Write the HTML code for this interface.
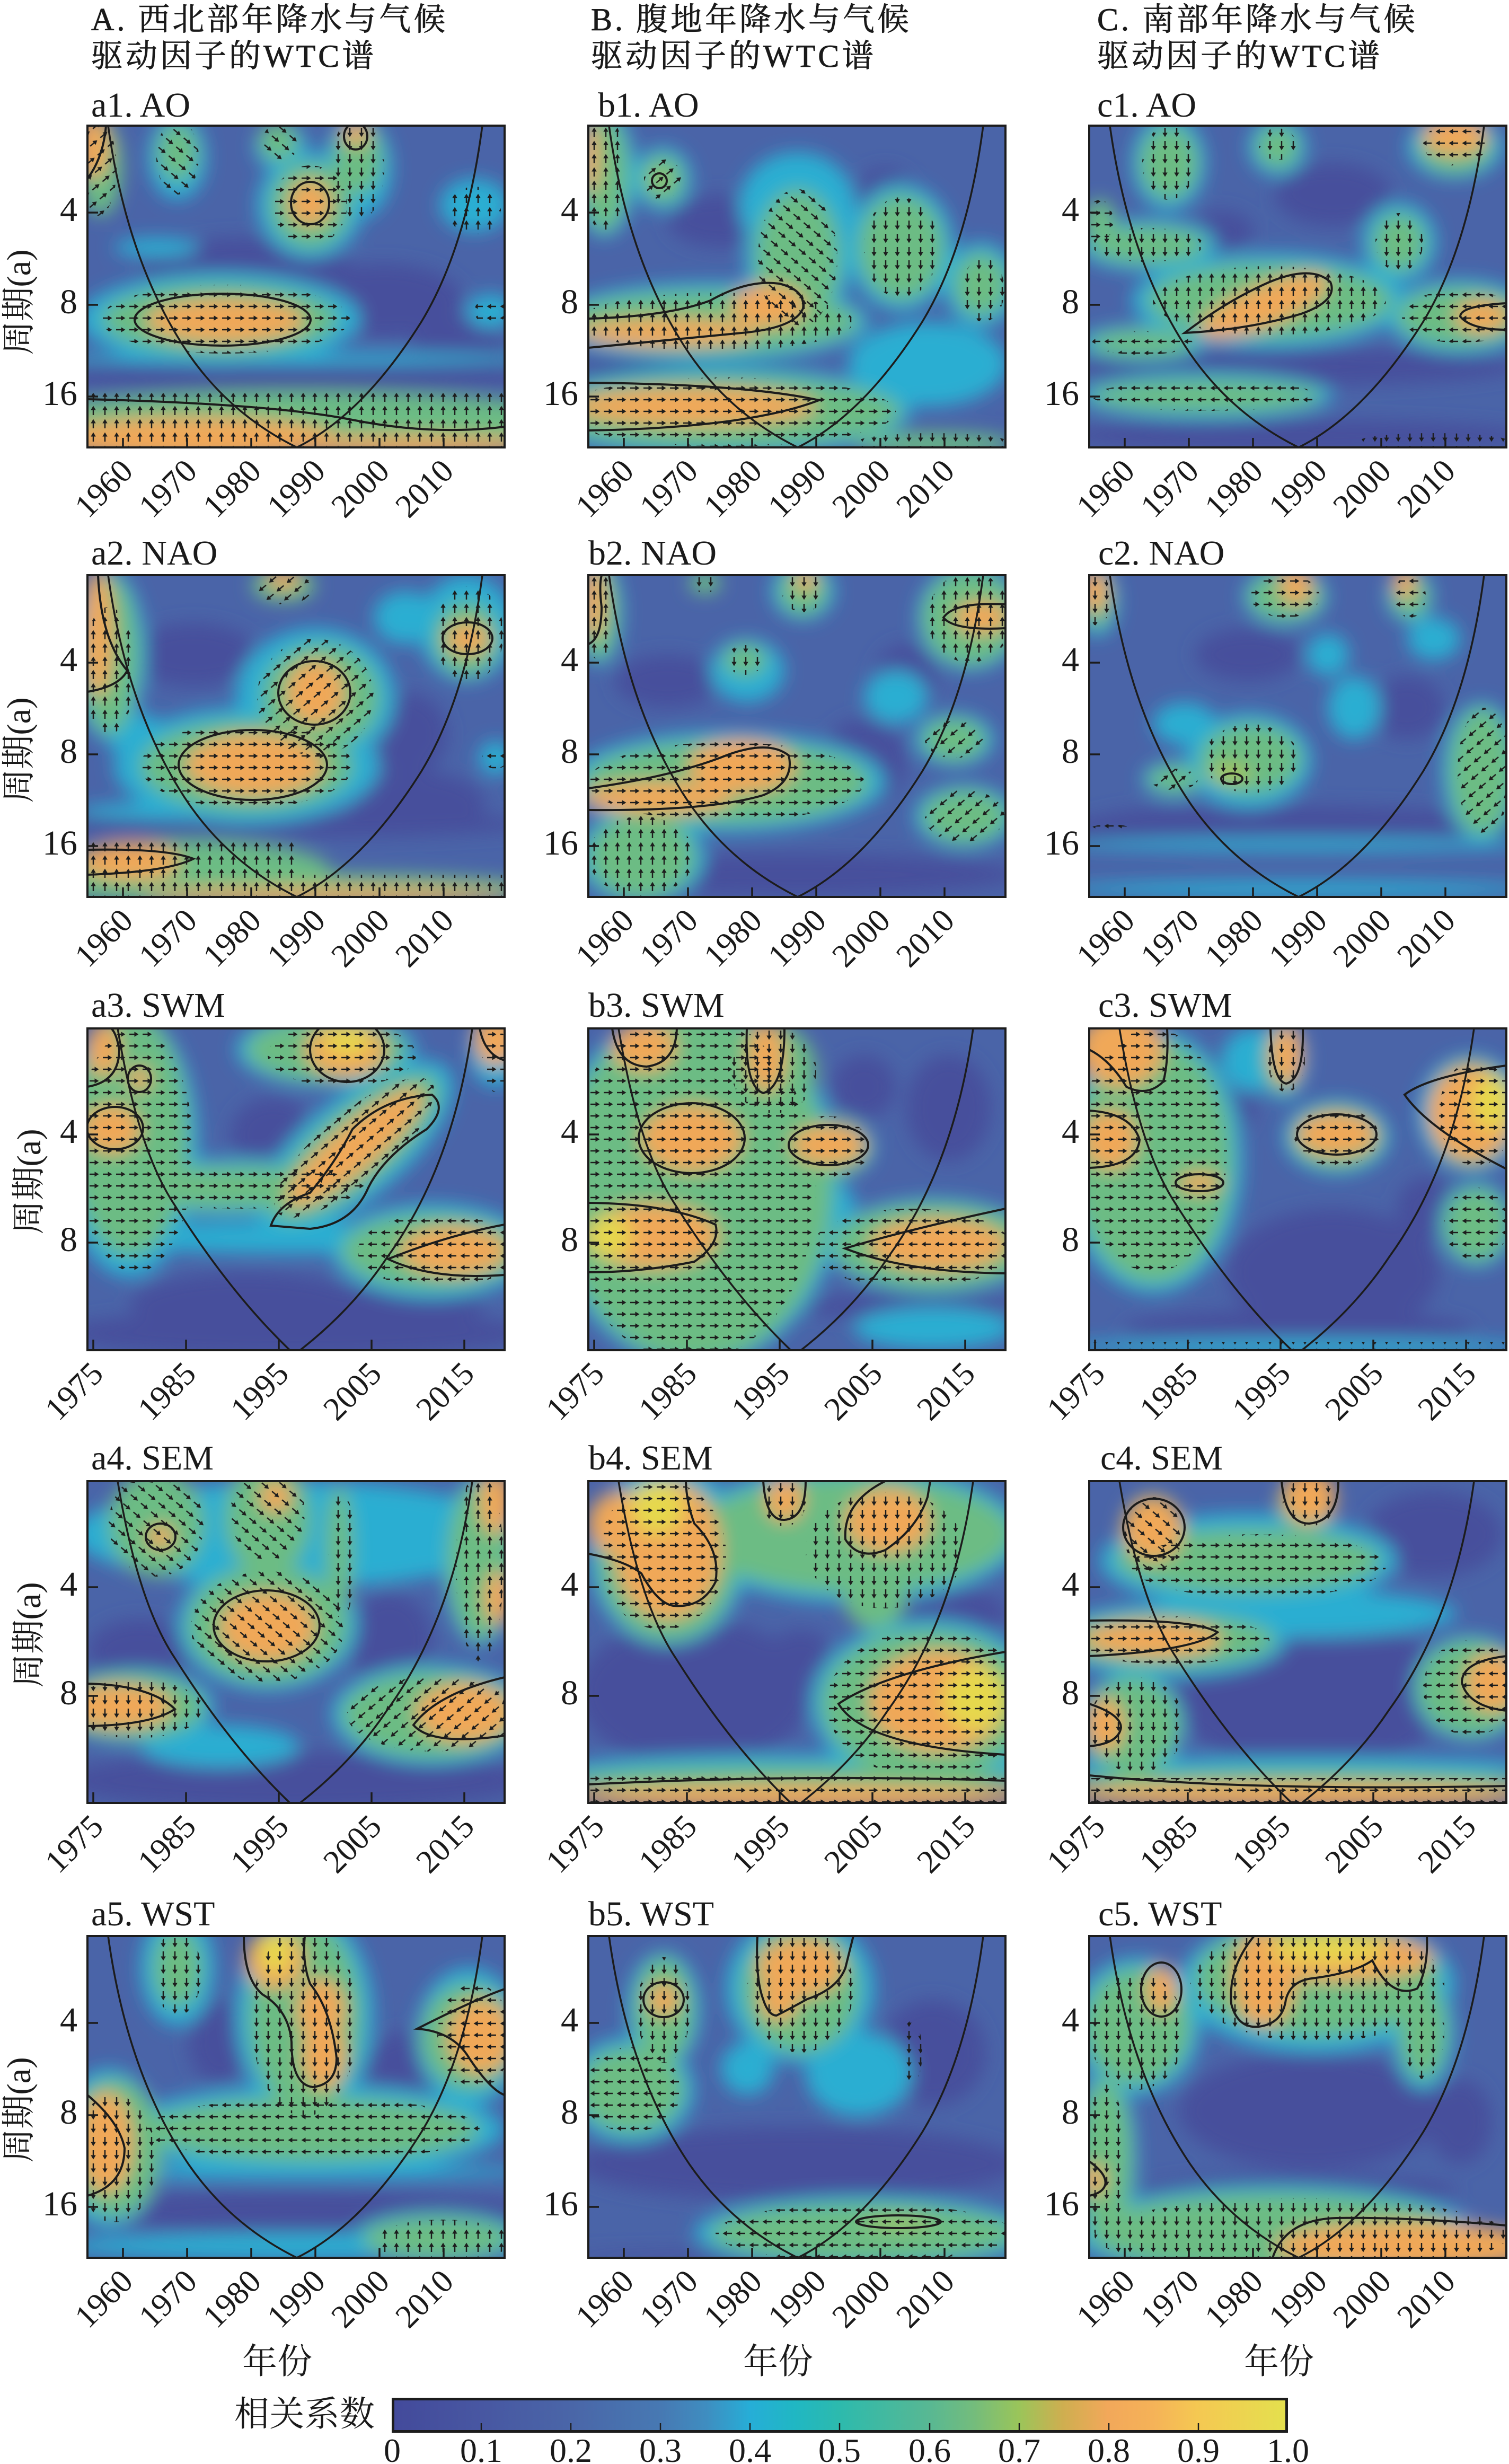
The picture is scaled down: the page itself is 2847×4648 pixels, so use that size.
<!DOCTYPE html>
<html><head><meta charset="utf-8"><style>html,body{margin:0;padding:0;background:#fff}svg{display:block}text{font-family:"Liberation Serif","Noto Serif CJK SC",serif;fill:#1a1a1a}</style></head><body>
<svg xmlns="http://www.w3.org/2000/svg" width="2847" height="4648" viewBox="0 0 2847 4648">
<defs>
<filter id="bl" x="-30%" y="-30%" width="160%" height="160%"><feGaussianBlur stdDeviation="17"/></filter>
<clipPath id="pc"><rect width="787" height="607"/></clipPath>
<pattern id="pR" width="25" height="22" patternUnits="userSpaceOnUse"><path d="M4 11H15" stroke="#1d1d1d" stroke-width="2.5"/><path d="M13.5 6.3L21.5 11L13.5 15.7Z" fill="#1d1d1d"/></pattern>
<pattern id="pL" width="25" height="22" patternUnits="userSpaceOnUse" patternTransform="rotate(180)"><path d="M4 11H15" stroke="#1d1d1d" stroke-width="2.5"/><path d="M13.5 6.3L21.5 11L13.5 15.7Z" fill="#1d1d1d"/></pattern>
<pattern id="pU" width="25" height="22" patternUnits="userSpaceOnUse" patternTransform="rotate(-90)"><path d="M4 11H15" stroke="#1d1d1d" stroke-width="2.5"/><path d="M13.5 6.3L21.5 11L13.5 15.7Z" fill="#1d1d1d"/></pattern>
<pattern id="pD" width="25" height="22" patternUnits="userSpaceOnUse" patternTransform="rotate(90)"><path d="M4 11H15" stroke="#1d1d1d" stroke-width="2.5"/><path d="M13.5 6.3L21.5 11L13.5 15.7Z" fill="#1d1d1d"/></pattern>
<pattern id="pDR" width="25" height="22" patternUnits="userSpaceOnUse" patternTransform="rotate(40)"><path d="M4 11H15" stroke="#1d1d1d" stroke-width="2.5"/><path d="M13.5 6.3L21.5 11L13.5 15.7Z" fill="#1d1d1d"/></pattern>
<pattern id="pUR" width="25" height="22" patternUnits="userSpaceOnUse" patternTransform="rotate(-40)"><path d="M4 11H15" stroke="#1d1d1d" stroke-width="2.5"/><path d="M13.5 6.3L21.5 11L13.5 15.7Z" fill="#1d1d1d"/></pattern>
<pattern id="pDL" width="25" height="22" patternUnits="userSpaceOnUse" patternTransform="rotate(140)"><path d="M4 11H15" stroke="#1d1d1d" stroke-width="2.5"/><path d="M13.5 6.3L21.5 11L13.5 15.7Z" fill="#1d1d1d"/></pattern>
<linearGradient id="cb" x1="0" x2="1" y1="0" y2="0">
<stop offset="0" stop-color="#434a9b"/><stop offset="0.1" stop-color="#4857a2"/><stop offset="0.2" stop-color="#4a66a8"/><stop offset="0.3" stop-color="#4779b3"/><stop offset="0.35" stop-color="#3f8dc0"/><stop offset="0.4" stop-color="#26aed7"/><stop offset="0.45" stop-color="#20b7c3"/><stop offset="0.5" stop-color="#2dbaad"/><stop offset="0.6" stop-color="#58b893"/><stop offset="0.65" stop-color="#74bc7c"/><stop offset="0.7" stop-color="#9ac55a"/><stop offset="0.75" stop-color="#cfae50"/><stop offset="0.8" stop-color="#f2a85a"/><stop offset="0.85" stop-color="#f5b258"/><stop offset="0.9" stop-color="#f5c852"/><stop offset="1" stop-color="#e4e04e"/>
</linearGradient>
<path id="coi1" d="M39,0 Q75,260 191,431 Q270,545 395,607 M395,607 Q520,545 630,370 Q715,230 745,0"/>
<path id="coi3" d="M57,0 Q95,230 165,334 Q270,500 382,607 M401,607 Q500,530 566,431 Q690,260 726,0"/>
</defs>
<rect width="2847" height="4648" fill="#fff"/>

<!-- headers -->
<g font-size="60" letter-spacing="5" stroke="#1a1a1a" stroke-width="0.8">
<text x="172" y="57">A. 西北部年降水与气候</text><text x="172" y="126">驱动因子的WTC谱</text>
<text x="1115" y="57">B. 腹地年降水与气候</text><text x="1115" y="126">驱动因子的WTC谱</text>
<text x="2070" y="57">C. 南部年降水与气候</text><text x="2070" y="126">驱动因子的WTC谱</text>
</g>

<!-- panel titles -->
<g font-size="66">
<text x="172" y="220">a1. AO</text><text x="1128" y="220">b1. AO</text><text x="2070" y="220">c1. AO</text>
<text x="172" y="1065">a2. NAO</text><text x="1110" y="1065">b2. NAO</text><text x="2072" y="1065">c2. NAO</text>
<text x="172" y="1918">a3. SWM</text><text x="1110" y="1918">b3. SWM</text><text x="2072" y="1918">c3. SWM</text>
<text x="172" y="2772">a4. SEM</text><text x="1110" y="2772">b4. SEM</text><text x="2076" y="2772">c4. SEM</text>
<text x="172" y="3632">a5. WST</text><text x="1110" y="3632">b5. WST</text><text x="2072" y="3632">c5. WST</text>
</g>

<!-- ============ a1 ============ -->
<g transform="translate(165,237)">
<g clip-path="url(#pc)">
<rect width="787" height="607" fill="#4a64a8"/>
<g filter="url(#bl)">
<g fill="#46509c"><ellipse cx="394" cy="470" rx="500" ry="28"/><ellipse cx="300" cy="270" rx="200" ry="60"/><ellipse cx="560" cy="330" rx="150" ry="70"/><ellipse cx="700" cy="420" rx="90" ry="60"/></g>
<g fill="#2aaed2"><ellipse cx="170" cy="60" rx="55" ry="80"/><ellipse cx="365" cy="40" rx="50" ry="45"/><ellipse cx="510" cy="80" rx="65" ry="95"/><ellipse cx="730" cy="150" rx="65" ry="50"/><ellipse cx="420" cy="150" rx="100" ry="100"/><ellipse cx="130" cy="230" rx="80" ry="18"/><ellipse cx="250" cy="365" rx="265" ry="88"/><ellipse cx="760" cy="350" rx="45" ry="32"/><ellipse cx="394" cy="440" rx="460" ry="12"/></g>
<g fill="#6cbc84"><ellipse cx="25" cy="80" rx="40" ry="90"/><ellipse cx="170" cy="50" rx="38" ry="55"/><ellipse cx="360" cy="30" rx="36" ry="36"/><ellipse cx="510" cy="60" rx="45" ry="70"/><ellipse cx="420" cy="150" rx="75" ry="80"/><ellipse cx="250" cy="365" rx="222" ry="66"/><ellipse cx="394" cy="555" rx="520" ry="55"/></g>
<g fill="#f0a858"><ellipse cx="10" cy="40" rx="30" ry="60"/><ellipse cx="506" cy="15" rx="25" ry="22"/><ellipse cx="420" cy="146" rx="40" ry="42"/><ellipse cx="260" cy="368" rx="150" ry="40"/><ellipse cx="200" cy="590" rx="270" ry="40"/><ellipse cx="600" cy="603" rx="260" ry="18"/></g>
</g>
<ellipse cx="20" cy="80" rx="35" ry="90" fill="url(#pUR)"/>
<g fill="url(#pDR)"><ellipse cx="170" cy="60" rx="40" ry="70"/><ellipse cx="365" cy="30" rx="35" ry="35"/></g>
<ellipse cx="510" cy="80" rx="50" ry="100" fill="url(#pD)"/>
<ellipse cx="730" cy="160" rx="50" ry="45" fill="url(#pU)"/>
<g fill="url(#pR)"><ellipse cx="420" cy="150" rx="70" ry="75"/><ellipse cx="260" cy="365" rx="235" ry="65"/></g>
<ellipse cx="760" cy="350" rx="30" ry="25" fill="url(#pL)"/>
<rect x="0" y="505" width="787" height="102" fill="url(#pU)"/>
<g fill="none" stroke="#1c1c1c" stroke-width="4"><ellipse cx="420" cy="146" rx="36" ry="40"/><ellipse cx="255" cy="366" rx="166" ry="49"/><path d="M0,516 Q350,525 500,555 T787,568"/><path d="M0,100 Q30,60 35,0"/><ellipse cx="506" cy="20" rx="22" ry="25"/></g>
<use href="#coi1" fill="none" stroke="#1c1c1c" stroke-width="3.5"/>
</g>
<rect width="787" height="607" fill="none" stroke="#1c1c1c" stroke-width="4"/>
</g>

<!-- ============ a2 ============ -->
<g transform="translate(165,1085)">
<g clip-path="url(#pc)">
<rect width="787" height="607" fill="#4a64a8"/>
<g filter="url(#bl)">
<g fill="#46509c"><ellipse cx="200" cy="150" rx="120" ry="60"/><ellipse cx="620" cy="430" rx="130" ry="60"/><ellipse cx="600" cy="300" rx="80" ry="80"/><ellipse cx="394" cy="470" rx="450" ry="25"/></g>
<g fill="#2aaed2"><ellipse cx="715" cy="100" rx="90" ry="100"/><ellipse cx="430" cy="230" rx="150" ry="130"/><ellipse cx="300" cy="360" rx="250" ry="110"/><ellipse cx="770" cy="345" rx="32" ry="32"/><ellipse cx="200" cy="445" rx="220" ry="18"/><ellipse cx="90" cy="300" rx="60" ry="40"/><ellipse cx="600" cy="80" rx="60" ry="50"/><ellipse cx="40" cy="150" rx="70" ry="160"/></g>
<g fill="#6cbc84"><ellipse cx="40" cy="150" rx="55" ry="150"/><ellipse cx="370" cy="20" rx="60" ry="30"/><ellipse cx="715" cy="120" rx="60" ry="70"/><ellipse cx="440" cy="230" rx="110" ry="100"/><ellipse cx="300" cy="360" rx="200" ry="85"/><ellipse cx="200" cy="560" rx="260" ry="60"/><ellipse cx="394" cy="592" rx="460" ry="30"/></g>
<g fill="#f0a858"><ellipse cx="20" cy="110" rx="28" ry="120"/><ellipse cx="370" cy="8" rx="30" ry="18"/><ellipse cx="717" cy="120" rx="40" ry="30"/><ellipse cx="430" cy="222" rx="55" ry="60"/><ellipse cx="315" cy="358" rx="130" ry="58"/><ellipse cx="80" cy="540" rx="95" ry="35"/><ellipse cx="450" cy="603" rx="350" ry="14"/></g>
</g>
<ellipse cx="40" cy="180" rx="50" ry="120" fill="url(#pU)"/>
<ellipse cx="370" cy="25" rx="55" ry="30" fill="url(#pDL)"/>
<ellipse cx="720" cy="110" rx="65" ry="90" fill="url(#pU)"/>
<ellipse cx="430" cy="230" rx="110" ry="110" fill="url(#pUR)"/>
<ellipse cx="300" cy="360" rx="200" ry="80" fill="url(#pR)"/>
<ellipse cx="770" cy="345" rx="25" ry="20" fill="url(#pL)"/>
<rect x="0" y="500" width="400" height="107" fill="url(#pU)"/><rect x="400" y="565" width="387" height="42" fill="url(#pU)"/>
<g fill="none" stroke="#1c1c1c" stroke-width="4"><path d="M20,0 Q25,120 75,180 Q60,210 0,220"/><ellipse cx="717" cy="119" rx="47" ry="30"/><ellipse cx="428" cy="222" rx="68" ry="60"/><ellipse cx="312" cy="358" rx="140" ry="66"/><path d="M0,518 Q150,515 200,535 Q150,560 0,565"/></g>
<use href="#coi1" fill="none" stroke="#1c1c1c" stroke-width="3.5"/>
</g>
<rect width="787" height="607" fill="none" stroke="#1c1c1c" stroke-width="4"/>
</g>

<!-- ============ a3 ============ -->
<g transform="translate(165,1940)">
<g clip-path="url(#pc)">
<rect width="787" height="607" fill="#4a64a8"/>
<g filter="url(#bl)">
<g fill="#46509c"><ellipse cx="350" cy="200" rx="80" ry="70"/><ellipse cx="300" cy="520" rx="220" ry="60"/><ellipse cx="394" cy="575" rx="450" ry="45"/><ellipse cx="600" cy="520" rx="150" ry="40"/></g>
<g fill="#2aaed2"><ellipse cx="80" cy="220" rx="130" ry="250"/><ellipse cx="260" cy="300" rx="280" ry="55"/><ellipse cx="450" cy="40" rx="170" ry="70"/><ellipse cx="504" cy="225" rx="230" ry="95" transform="rotate(-40 504 225)"/><ellipse cx="650" cy="420" rx="190" ry="90"/><ellipse cx="394" cy="395" rx="394" ry="30"/><ellipse cx="770" cy="40" rx="50" ry="70"/></g>
<g fill="#6cbc84"><ellipse cx="80" cy="200" rx="110" ry="230"/><ellipse cx="260" cy="300" rx="250" ry="40"/><ellipse cx="450" cy="40" rx="150" ry="60"/><ellipse cx="504" cy="225" rx="200" ry="70" transform="rotate(-40 504 225)"/><ellipse cx="650" cy="420" rx="170" ry="70"/></g>
<g fill="#f0a858"><ellipse cx="30" cy="40" rx="30" ry="50"/><ellipse cx="45" cy="190" rx="55" ry="45"/><ellipse cx="98" cy="95" rx="20" ry="22"/><ellipse cx="487" cy="40" rx="75" ry="50"/><ellipse cx="504" cy="225" rx="165" ry="42" transform="rotate(-40 504 225)"/><ellipse cx="770" cy="20" rx="40" ry="50"/><ellipse cx="690" cy="420" rx="100" ry="45"/></g>
<ellipse cx="490" cy="25" rx="45" ry="25" fill="#e6d84e"/>
</g>
<g fill="url(#pR)"><ellipse cx="90" cy="230" rx="110" ry="230"/><ellipse cx="280" cy="300" rx="250" ry="40"/><ellipse cx="480" cy="50" rx="140" ry="60"/><ellipse cx="504" cy="225" rx="190" ry="65" transform="rotate(-40 504 225)"/><ellipse cx="770" cy="60" rx="25" ry="60"/></g>
<ellipse cx="660" cy="420" rx="150" ry="70" fill="url(#pL)"/>
<g fill="none" stroke="#1c1c1c" stroke-width="4"><path d="M0,110 Q60,100 60,40 Q55,10 45,0"/><ellipse cx="98" cy="95" rx="22" ry="25"/><ellipse cx="52" cy="188" rx="53" ry="40"/><ellipse cx="490" cy="40" rx="70" ry="61"/><path d="M346,372 Q360,330 420,310 Q470,250 500,190 Q560,130 650,125 Q680,150 640,190 Q560,240 530,300 Q500,370 420,378 Z"/><path d="M740,0 Q750,50 787,60"/><path d="M787,370 Q680,390 567,435 Q650,475 787,465"/></g>
<use href="#coi3" fill="none" stroke="#1c1c1c" stroke-width="3.5"/>
</g>
<rect width="787" height="607" fill="none" stroke="#1c1c1c" stroke-width="4"/>
</g>

<!-- ============ a4 ============ -->
<g transform="translate(165,2794)">
<g clip-path="url(#pc)">
<rect width="787" height="607" fill="#4a64a8"/>
<g filter="url(#bl)">
<g fill="#46509c"><ellipse cx="570" cy="300" rx="80" ry="90"/><ellipse cx="394" cy="565" rx="450" ry="55"/><ellipse cx="100" cy="320" rx="100" ry="60"/></g>
<g fill="#2aaed2"><ellipse cx="394" cy="100" rx="420" ry="100"/><ellipse cx="340" cy="270" rx="170" ry="125"/><ellipse cx="90" cy="425" rx="150" ry="70"/><ellipse cx="650" cy="440" rx="190" ry="95"/><ellipse cx="250" cy="500" rx="150" ry="40"/><ellipse cx="740" cy="150" rx="70" ry="160"/></g>
<g fill="#6cbc84"><ellipse cx="130" cy="80" rx="90" ry="100"/><ellipse cx="340" cy="70" rx="80" ry="110"/><ellipse cx="475" cy="130" rx="25" ry="120"/><ellipse cx="740" cy="150" rx="60" ry="150"/><ellipse cx="340" cy="270" rx="150" ry="110"/><ellipse cx="80" cy="425" rx="140" ry="60"/><ellipse cx="650" cy="440" rx="170" ry="80"/></g>
<g fill="#f0a858"><ellipse cx="355" cy="30" rx="30" ry="30"/><ellipse cx="138" cy="105" rx="25" ry="22"/><ellipse cx="770" cy="40" rx="30" ry="60"/><ellipse cx="775" cy="220" rx="25" ry="50"/><ellipse cx="340" cy="275" rx="90" ry="65"/><ellipse cx="60" cy="425" rx="100" ry="40"/><ellipse cx="710" cy="437" rx="90" ry="55"/></g>
</g>
<g fill="url(#pDR)"><ellipse cx="130" cy="80" rx="90" ry="100"/><ellipse cx="340" cy="60" rx="70" ry="90"/><ellipse cx="340" cy="275" rx="145" ry="105"/></g>
<g fill="url(#pD)"><ellipse cx="480" cy="140" rx="25" ry="120"/><ellipse cx="90" cy="430" rx="130" ry="55"/></g>
<ellipse cx="740" cy="160" rx="45" ry="180" fill="url(#pU)"/>
<ellipse cx="650" cy="440" rx="160" ry="70" fill="url(#pDL)"/>
<g fill="none" stroke="#1c1c1c" stroke-width="4"><ellipse cx="138" cy="105" rx="28" ry="25"/><ellipse cx="338" cy="273" rx="100" ry="67"/><path d="M0,382 Q120,385 165,430 Q120,460 0,462"/><path d="M787,370 Q660,400 615,460 Q650,500 787,480"/></g>
<use href="#coi3" fill="none" stroke="#1c1c1c" stroke-width="3.5"/>
</g>
<rect width="787" height="607" fill="none" stroke="#1c1c1c" stroke-width="4"/>
</g>

<!-- ============ a5 ============ -->
<g transform="translate(165,3652)">
<g clip-path="url(#pc)">
<rect width="787" height="607" fill="#4a64a8"/>
<g filter="url(#bl)">
<g fill="#46509c"><ellipse cx="250" cy="200" rx="60" ry="80"/><ellipse cx="600" cy="260" rx="80" ry="80"/><ellipse cx="394" cy="520" rx="450" ry="40"/></g>
<g fill="#2aaed2"><ellipse cx="410" cy="150" rx="130" ry="200"/><ellipse cx="170" cy="60" rx="70" ry="110"/><ellipse cx="720" cy="190" rx="100" ry="130"/><ellipse cx="425" cy="365" rx="360" ry="85"/><ellipse cx="40" cy="400" rx="100" ry="150"/><ellipse cx="394" cy="445" rx="450" ry="14"/><ellipse cx="394" cy="585" rx="450" ry="25"/><ellipse cx="660" cy="570" rx="160" ry="50"/></g>
<g fill="#6cbc84"><ellipse cx="410" cy="150" rx="105" ry="180"/><ellipse cx="170" cy="60" rx="45" ry="75"/><ellipse cx="720" cy="190" rx="90" ry="100"/><ellipse cx="425" cy="365" rx="315" ry="60"/><ellipse cx="50" cy="400" rx="90" ry="130"/><ellipse cx="660" cy="570" rx="140" ry="40"/></g>
<g fill="#f0a858"><ellipse cx="354" cy="45" rx="55" ry="55"/><ellipse cx="440" cy="140" rx="45" ry="60"/><ellipse cx="445" cy="225" rx="40" ry="65"/><ellipse cx="740" cy="190" rx="60" ry="70"/><ellipse cx="35" cy="390" rx="50" ry="95"/></g>
<ellipse cx="354" cy="30" rx="30" ry="40" fill="#e6d84e"/>
</g>
<g fill="url(#pD)"><ellipse cx="410" cy="160" rx="100" ry="180"/><ellipse cx="170" cy="70" rx="45" ry="80"/><ellipse cx="50" cy="420" rx="80" ry="120"/></g>
<g fill="url(#pL)"><ellipse cx="730" cy="190" rx="70" ry="100"/><ellipse cx="425" cy="365" rx="315" ry="60"/></g>
<ellipse cx="670" cy="575" rx="130" ry="40" fill="url(#pU)"/>
<g fill="none" stroke="#1c1c1c" stroke-width="4"><path d="M295,0 Q295,80 330,110 Q380,140 385,200 Q385,280 425,285 Q470,280 470,230 Q460,140 420,90 Q405,50 410,0"/><path d="M787,100 Q730,120 622,175 Q690,180 720,230 Q760,290 787,300"/><path d="M0,300 Q60,350 70,400 Q70,470 0,490"/></g>
<use href="#coi1" fill="none" stroke="#1c1c1c" stroke-width="3.5"/>
</g>
<rect width="787" height="607" fill="none" stroke="#1c1c1c" stroke-width="4"/>
</g>

<!-- ============ b1 ============ -->
<g transform="translate(1110,237)">
<g clip-path="url(#pc)">
<rect width="787" height="607" fill="#4a64a8"/>
<g filter="url(#bl)">
<g fill="#46509c"><ellipse cx="200" cy="460" rx="220" ry="25"/><ellipse cx="560" cy="140" rx="60" ry="60"/><ellipse cx="250" cy="180" rx="100" ry="50"/><ellipse cx="394" cy="590" rx="450" ry="20"/></g>
<g fill="#2aaed2"><ellipse cx="30" cy="90" rx="60" ry="120"/><ellipse cx="140" cy="100" rx="55" ry="60"/><ellipse cx="394" cy="150" rx="110" ry="100"/><ellipse cx="395" cy="250" rx="100" ry="150"/><ellipse cx="590" cy="230" rx="100" ry="120"/><ellipse cx="740" cy="300" rx="70" ry="80"/><ellipse cx="230" cy="370" rx="300" ry="75"/><ellipse cx="250" cy="540" rx="360" ry="85"/><ellipse cx="640" cy="450" rx="150" ry="80"/></g>
<g fill="#6cbc84"><ellipse cx="30" cy="90" rx="45" ry="110"/><ellipse cx="140" cy="100" rx="40" ry="45"/><ellipse cx="395" cy="250" rx="80" ry="130"/><ellipse cx="590" cy="230" rx="80" ry="100"/><ellipse cx="740" cy="300" rx="50" ry="60"/><ellipse cx="230" cy="370" rx="280" ry="58"/><ellipse cx="250" cy="540" rx="340" ry="68"/><ellipse cx="650" cy="600" rx="150" ry="20"/></g>
<g fill="#f0a858"><ellipse cx="5" cy="60" rx="15" ry="70"/><ellipse cx="150" cy="390" rx="170" ry="26"/><ellipse cx="340" cy="340" rx="70" ry="40"/><ellipse cx="200" cy="530" rx="230" ry="35"/></g>
<ellipse cx="134" cy="100" rx="15" ry="15" fill="#a8c456"/>
</g>
<ellipse cx="30" cy="90" rx="40" ry="110" fill="url(#pU)"/>
<ellipse cx="140" cy="100" rx="35" ry="40" fill="url(#pUR)"/>
<ellipse cx="395" cy="250" rx="75" ry="130" fill="url(#pDR)"/>
<g fill="url(#pD)"><ellipse cx="590" cy="230" rx="70" ry="95"/><ellipse cx="745" cy="310" rx="40" ry="60"/><ellipse cx="650" cy="600" rx="150" ry="20"/></g>
<ellipse cx="240" cy="370" rx="260" ry="55" fill="url(#pU)"/>
<ellipse cx="260" cy="540" rx="320" ry="65" fill="url(#pR)"/>
<g fill="none" stroke="#1c1c1c" stroke-width="4"><ellipse cx="134" cy="104" rx="14" ry="14"/><path d="M0,364 Q150,360 230,330 Q300,290 360,298 Q410,310 405,345 Q390,380 300,390 Q200,400 0,419"/><path d="M0,485 Q300,488 435,518 Q300,570 0,575"/></g>
<use href="#coi1" fill="none" stroke="#1c1c1c" stroke-width="3.5"/>
</g>
<rect width="787" height="607" fill="none" stroke="#1c1c1c" stroke-width="4"/>
</g>

<!-- ============ c1 ============ -->
<g transform="translate(2055,237)">
<g clip-path="url(#pc)">
<rect width="787" height="607" fill="#4a64a8"/>
<g filter="url(#bl)">
<g fill="#46509c"><ellipse cx="394" cy="455" rx="420" ry="35"/><ellipse cx="394" cy="585" rx="450" ry="30"/><ellipse cx="460" cy="130" rx="110" ry="60"/><ellipse cx="250" cy="200" rx="60" ry="40"/></g>
<g fill="#2aaed2"><ellipse cx="150" cy="70" rx="70" ry="90"/><ellipse cx="355" cy="40" rx="55" ry="55"/><ellipse cx="690" cy="40" rx="90" ry="60"/><ellipse cx="110" cy="225" rx="130" ry="50"/><ellipse cx="585" cy="220" rx="70" ry="75"/><ellipse cx="340" cy="330" rx="260" ry="90"/><ellipse cx="100" cy="410" rx="120" ry="35"/><ellipse cx="700" cy="360" rx="140" ry="70"/><ellipse cx="220" cy="510" rx="240" ry="45"/></g>
<g fill="#6cbc84"><ellipse cx="150" cy="70" rx="55" ry="70"/><ellipse cx="355" cy="40" rx="40" ry="40"/><ellipse cx="690" cy="40" rx="70" ry="50"/><ellipse cx="20" cy="180" rx="30" ry="40"/><ellipse cx="110" cy="225" rx="110" ry="35"/><ellipse cx="585" cy="220" rx="50" ry="55"/><ellipse cx="340" cy="330" rx="230" ry="70"/><ellipse cx="100" cy="410" rx="100" ry="25"/><ellipse cx="700" cy="360" rx="120" ry="55"/><ellipse cx="220" cy="510" rx="220" ry="30"/></g>
<g fill="#f0a858"><ellipse cx="690" cy="20" rx="60" ry="35"/><ellipse cx="330" cy="340" rx="130" ry="38" transform="rotate(-22 330 340)"/><ellipse cx="740" cy="360" rx="50" ry="30"/></g>
</g>
<g fill="url(#pD)"><ellipse cx="150" cy="70" rx="50" ry="70"/><ellipse cx="355" cy="35" rx="35" ry="30"/><ellipse cx="110" cy="225" rx="105" ry="32"/><ellipse cx="585" cy="220" rx="45" ry="55"/><ellipse cx="650" cy="595" rx="140" ry="15"/></g>
<g fill="url(#pL)"><ellipse cx="690" cy="35" rx="60" ry="40"/><ellipse cx="100" cy="410" rx="95" ry="22"/><ellipse cx="700" cy="360" rx="110" ry="50"/><ellipse cx="220" cy="510" rx="215" ry="28"/></g>
<ellipse cx="20" cy="180" rx="25" ry="40" fill="url(#pR)"/>
<ellipse cx="340" cy="330" rx="220" ry="65" fill="url(#pU)"/>
<g fill="none" stroke="#1c1c1c" stroke-width="4"><path d="M180,391 Q260,330 340,295 Q420,262 455,295 Q470,330 400,355 Q300,385 180,391 Z"/><path d="M787,335 Q700,340 700,360 Q720,385 787,385"/></g>
<use href="#coi1" fill="none" stroke="#1c1c1c" stroke-width="3.5"/>
</g>
<rect width="787" height="607" fill="none" stroke="#1c1c1c" stroke-width="4"/>
</g>

<!-- ============ b2 ============ -->
<g transform="translate(1110,1085)">
<g clip-path="url(#pc)">
<rect width="787" height="607" fill="#4a64a8"/>
<g filter="url(#bl)">
<g fill="#46509c"><ellipse cx="150" cy="200" rx="100" ry="50"/><ellipse cx="520" cy="350" rx="80" ry="80"/><ellipse cx="394" cy="565" rx="420" ry="40"/><ellipse cx="600" cy="190" rx="60" ry="60"/></g>
<g fill="#2aaed2"><ellipse cx="20" cy="70" rx="45" ry="100"/><ellipse cx="405" cy="30" rx="60" ry="55"/><ellipse cx="295" cy="160" rx="55" ry="40"/><ellipse cx="720" cy="80" rx="100" ry="100"/><ellipse cx="260" cy="390" rx="300" ry="95"/><ellipse cx="100" cy="530" rx="120" ry="90"/><ellipse cx="690" cy="310" rx="75" ry="50"/><ellipse cx="710" cy="455" rx="95" ry="60"/><ellipse cx="300" cy="180" rx="70" ry="60"/><ellipse cx="580" cy="230" rx="60" ry="50"/></g>
<g fill="#6cbc84"><ellipse cx="20" cy="70" rx="35" ry="90"/><ellipse cx="220" cy="15" rx="30" ry="20"/><ellipse cx="405" cy="30" rx="45" ry="45"/><ellipse cx="295" cy="160" rx="40" ry="30"/><ellipse cx="720" cy="80" rx="90" ry="90"/><ellipse cx="260" cy="390" rx="270" ry="78"/><ellipse cx="100" cy="530" rx="100" ry="80"/><ellipse cx="690" cy="310" rx="60" ry="40"/><ellipse cx="710" cy="455" rx="80" ry="50"/></g>
<g fill="#f0a858"><ellipse cx="10" cy="50" rx="20" ry="70"/><ellipse cx="410" cy="10" rx="20" ry="20"/><ellipse cx="740" cy="80" rx="50" ry="30"/><ellipse cx="130" cy="420" rx="140" ry="30"/><ellipse cx="290" cy="360" rx="100" ry="50"/></g>
</g>
<ellipse cx="20" cy="70" rx="30" ry="90" fill="url(#pU)"/>
<g fill="url(#pD)"><ellipse cx="220" cy="15" rx="25" ry="18"/><ellipse cx="405" cy="30" rx="40" ry="40"/><ellipse cx="295" cy="160" rx="35" ry="28"/></g>
<ellipse cx="720" cy="80" rx="80" ry="85" fill="url(#pU)"/>
<ellipse cx="260" cy="390" rx="260" ry="75" fill="url(#pR)"/>
<ellipse cx="100" cy="530" rx="100" ry="75" fill="url(#pU)"/>
<g fill="url(#pDL)"><ellipse cx="690" cy="310" rx="55" ry="35"/><ellipse cx="710" cy="455" rx="75" ry="50"/></g>
<g fill="none" stroke="#1c1c1c" stroke-width="4"><path d="M0,130 Q25,120 25,60 Q20,20 25,0"/><path d="M787,55 Q690,50 670,80 Q690,105 787,100"/><path d="M0,402 Q160,380 260,340 Q340,310 378,340 Q390,390 330,415 Q230,445 0,443"/></g>
<use href="#coi1" fill="none" stroke="#1c1c1c" stroke-width="3.5"/>
</g>
<rect width="787" height="607" fill="none" stroke="#1c1c1c" stroke-width="4"/>
</g>

<!-- ============ c2 ============ -->
<g transform="translate(2055,1085)">
<g clip-path="url(#pc)">
<rect width="787" height="607" fill="#4a64a8"/>
<g filter="url(#bl)">
<g fill="#46509c"><ellipse cx="394" cy="480" rx="450" ry="45"/><ellipse cx="300" cy="150" rx="100" ry="50"/><ellipse cx="600" cy="250" rx="70" ry="60"/><ellipse cx="150" cy="470" rx="150" ry="30"/></g>
<g fill="#2aaed2"><ellipse cx="15" cy="50" rx="40" ry="65"/><ellipse cx="370" cy="40" rx="80" ry="55"/><ellipse cx="605" cy="40" rx="45" ry="50"/><ellipse cx="300" cy="350" rx="120" ry="90"/><ellipse cx="740" cy="370" rx="75" ry="130"/><ellipse cx="160" cy="385" rx="60" ry="35"/><ellipse cx="180" cy="280" rx="60" ry="40"/><ellipse cx="450" cy="150" rx="40" ry="40"/><ellipse cx="650" cy="120" rx="50" ry="40"/><ellipse cx="394" cy="508" rx="450" ry="12"/><ellipse cx="394" cy="592" rx="450" ry="15"/><ellipse cx="500" cy="250" rx="50" ry="60"/></g>
<g fill="#6cbc84"><ellipse cx="15" cy="45" rx="30" ry="55"/><ellipse cx="370" cy="40" rx="70" ry="45"/><ellipse cx="605" cy="40" rx="35" ry="40"/><ellipse cx="305" cy="346" rx="95" ry="66"/><ellipse cx="740" cy="370" rx="60" ry="120"/><ellipse cx="160" cy="385" rx="50" ry="25"/></g>
<g fill="#f0a858"><ellipse cx="10" cy="30" rx="25" ry="40"/><ellipse cx="390" cy="20" rx="30" ry="35"/><ellipse cx="595" cy="15" rx="20" ry="30"/></g>
<ellipse cx="265" cy="375" rx="40" ry="20" fill="#a8c456"/>
</g>
<ellipse cx="15" cy="45" rx="25" ry="50" fill="url(#pD)"/>
<ellipse cx="370" cy="40" rx="65" ry="40" fill="url(#pR)"/>
<ellipse cx="605" cy="40" rx="30" ry="40" fill="url(#pL)"/>
<ellipse cx="305" cy="346" rx="90" ry="65" fill="url(#pD)"/>
<ellipse cx="745" cy="370" rx="50" ry="120" fill="url(#pDL)"/>
<ellipse cx="160" cy="385" rx="45" ry="20" fill="url(#pUR)"/>
<ellipse cx="40" cy="480" rx="40" ry="10" fill="url(#pL)"/>
<g fill="none" stroke="#1c1c1c" stroke-width="4"><ellipse cx="269" cy="384" rx="20" ry="10"/></g>
<use href="#coi1" fill="none" stroke="#1c1c1c" stroke-width="3.5"/>
</g>
<rect width="787" height="607" fill="none" stroke="#1c1c1c" stroke-width="4"/>
</g>

<!-- ============ b3 ============ -->
<g transform="translate(1110,1940)">
<g clip-path="url(#pc)">
<rect width="787" height="607" fill="#4a64a8"/>
<g filter="url(#bl)">
<g fill="#46509c"><ellipse cx="680" cy="150" rx="80" ry="100"/><ellipse cx="600" cy="525" rx="200" ry="25"/><ellipse cx="520" cy="110" rx="60" ry="60"/></g>
<g fill="#2aaed2"><ellipse cx="200" cy="300" rx="280" ry="340"/><ellipse cx="394" cy="330" rx="110" ry="55"/><ellipse cx="650" cy="410" rx="200" ry="90"/><ellipse cx="650" cy="565" rx="150" ry="40"/><ellipse cx="450" cy="225" rx="90" ry="60"/></g>
<g fill="#6cbc84"><ellipse cx="200" cy="300" rx="260" ry="330"/><ellipse cx="650" cy="410" rx="190" ry="80"/><ellipse cx="450" cy="225" rx="80" ry="55"/><ellipse cx="340" cy="80" rx="90" ry="90"/></g>
<g fill="#f0a858"><ellipse cx="105" cy="35" rx="60" ry="45"/><ellipse cx="335" cy="55" rx="35" ry="65"/><ellipse cx="195" cy="207" rx="95" ry="62"/><ellipse cx="453" cy="220" rx="70" ry="36"/><ellipse cx="120" cy="392" rx="125" ry="60"/><ellipse cx="660" cy="408" rx="130" ry="48"/></g>
<ellipse cx="40" cy="392" rx="40" ry="40" fill="#e6d84e"/>
</g>
<ellipse cx="190" cy="300" rx="240" ry="330" fill="url(#pR)"/>
<ellipse cx="450" cy="225" rx="80" ry="60" fill="url(#pR)"/>
<ellipse cx="610" cy="415" rx="190" ry="75" fill="url(#pL)"/>
<ellipse cx="350" cy="80" rx="80" ry="80" fill="url(#pD)"/>
<g fill="none" stroke="#1c1c1c" stroke-width="4"><path d="M45,0 Q55,70 110,72 Q165,65 167,0"/><path d="M299,0 Q295,110 330,122 Q370,110 370,0"/><ellipse cx="195" cy="207" rx="100" ry="66"/><ellipse cx="453" cy="220" rx="75" ry="38"/><path d="M0,329 Q150,330 240,370 Q250,405 200,440 Q100,460 0,460"/><path d="M787,340 Q600,380 484,415 Q600,460 787,462"/></g>
<use href="#coi3" fill="none" stroke="#1c1c1c" stroke-width="3.5"/>
</g>
<rect width="787" height="607" fill="none" stroke="#1c1c1c" stroke-width="4"/>
</g>

<!-- ============ c3 ============ -->
<g transform="translate(2055,1940)">
<g clip-path="url(#pc)">
<rect width="787" height="607" fill="#4a64a8"/>
<g filter="url(#bl)">
<g fill="#46509c"><ellipse cx="265" cy="120" rx="50" ry="90"/><ellipse cx="460" cy="460" rx="200" ry="120"/><ellipse cx="394" cy="570" rx="330" ry="40"/><ellipse cx="640" cy="340" rx="60" ry="60"/></g>
<g fill="#2aaed2"><ellipse cx="120" cy="250" rx="170" ry="250"/><ellipse cx="365" cy="60" rx="45" ry="75"/><ellipse cx="467" cy="205" rx="100" ry="70"/><ellipse cx="720" cy="160" rx="100" ry="110"/><ellipse cx="730" cy="370" rx="70" ry="80"/><ellipse cx="310" cy="60" rx="60" ry="60"/><ellipse cx="394" cy="600" rx="450" ry="15"/></g>
<g fill="#6cbc84"><ellipse cx="120" cy="250" rx="150" ry="230"/><ellipse cx="365" cy="60" rx="35" ry="60"/><ellipse cx="467" cy="205" rx="85" ry="58"/><ellipse cx="720" cy="160" rx="80" ry="100"/><ellipse cx="730" cy="370" rx="60" ry="70"/></g>
<g fill="#f0a858"><ellipse cx="60" cy="40" rx="80" ry="70"/><ellipse cx="40" cy="210" rx="50" ry="55"/><ellipse cx="208" cy="291" rx="40" ry="18"/><ellipse cx="372" cy="50" rx="30" ry="55"/><ellipse cx="467" cy="200" rx="75" ry="40"/><ellipse cx="720" cy="160" rx="80" ry="90"/></g>
<ellipse cx="760" cy="140" rx="40" ry="50" fill="#e6d84e"/>
</g>
<ellipse cx="120" cy="230" rx="140" ry="230" fill="url(#pR)"/>
<ellipse cx="372" cy="60" rx="35" ry="60" fill="url(#pD)"/>
<g fill="url(#pR)"><ellipse cx="467" cy="205" rx="80" ry="55"/><ellipse cx="730" cy="160" rx="70" ry="100"/></g>
<ellipse cx="730" cy="370" rx="60" ry="70" fill="url(#pL)"/>
<rect x="0" y="592" width="787" height="15" fill="url(#pD)"/>
<g fill="none" stroke="#1c1c1c" stroke-width="4"><path d="M0,40 Q40,60 70,110 Q110,130 140,100 Q150,60 147,0"/><path d="M0,155 Q80,160 95,210 Q90,260 0,263"/><ellipse cx="208" cy="291" rx="45" ry="16"/><path d="M342,0 Q345,100 372,104 Q405,95 403,0"/><ellipse cx="467" cy="200" rx="75" ry="38"/><path d="M787,70 Q640,90 595,125 Q640,190 787,265"/></g>
<use href="#coi3" fill="none" stroke="#1c1c1c" stroke-width="3.5"/>
</g>
<rect width="787" height="607" fill="none" stroke="#1c1c1c" stroke-width="4"/>
</g>

<!-- ============ b4 ============ -->
<g transform="translate(1110,2794)">
<g clip-path="url(#pc)">
<rect width="787" height="607" fill="#4a64a8"/>
<g filter="url(#bl)">
<g fill="#46509c"><ellipse cx="200" cy="400" rx="220" ry="140"/><ellipse cx="680" cy="250" rx="110" ry="50"/><ellipse cx="400" cy="330" rx="60" ry="50"/></g>
<g fill="#2aaed2"><ellipse cx="500" cy="100" rx="320" ry="130"/><ellipse cx="640" cy="420" rx="220" ry="160"/><ellipse cx="150" cy="140" rx="150" ry="170"/><ellipse cx="394" cy="545" rx="450" ry="30"/></g>
<g fill="#6cbc84"><ellipse cx="500" cy="100" rx="300" ry="110"/><ellipse cx="540" cy="210" rx="60" ry="70"/><ellipse cx="640" cy="420" rx="200" ry="140"/><ellipse cx="394" cy="562" rx="450" ry="25"/><ellipse cx="150" cy="150" rx="130" ry="150"/></g>
<g fill="#f0a858"><ellipse cx="150" cy="130" rx="100" ry="130"/><ellipse cx="60" cy="80" rx="60" ry="60"/><ellipse cx="370" cy="35" rx="35" ry="40"/><ellipse cx="565" cy="75" rx="80" ry="60"/><ellipse cx="660" cy="415" rx="130" ry="95"/><ellipse cx="394" cy="595" rx="450" ry="22"/></g>
<g fill="#e6d84e"><ellipse cx="130" cy="50" rx="50" ry="50"/><ellipse cx="730" cy="410" rx="60" ry="60"/></g>
</g>
<ellipse cx="140" cy="140" rx="120" ry="140" fill="url(#pR)"/>
<ellipse cx="370" cy="40" rx="40" ry="45" fill="url(#pD)"/>
<ellipse cx="560" cy="130" rx="150" ry="110" fill="url(#pD)"/>
<ellipse cx="640" cy="420" rx="190" ry="140" fill="url(#pR)"/>
<rect x="0" y="545" width="787" height="62" fill="url(#pR)"/>
<g fill="none" stroke="#1c1c1c" stroke-width="4"><path d="M0,137 Q70,150 100,174 Q130,230 160,235 Q215,240 240,190 Q250,130 200,80 Q185,40 184,0"/><path d="M330,0 Q335,75 370,73 Q410,70 410,0"/><path d="M560,0 Q480,40 485,110 Q510,150 560,130 Q620,90 640,30 L645,0"/><path d="M787,322 Q560,360 472,420 Q520,500 787,516"/><path d="M0,572 Q400,552 787,565"/></g>
<use href="#coi3" fill="none" stroke="#1c1c1c" stroke-width="3.5"/>
</g>
<rect width="787" height="607" fill="none" stroke="#1c1c1c" stroke-width="4"/>
</g>

<!-- ============ c4 ============ -->
<g transform="translate(2055,2794)">
<g clip-path="url(#pc)">
<rect width="787" height="607" fill="#4a64a8"/>
<g filter="url(#bl)">
<g fill="#46509c"><ellipse cx="420" cy="400" rx="260" ry="150"/><ellipse cx="650" cy="100" rx="130" ry="80"/></g>
<g fill="#2aaed2"><ellipse cx="300" cy="150" rx="280" ry="90"/><ellipse cx="150" cy="300" rx="220" ry="70"/><ellipse cx="80" cy="460" rx="100" ry="100"/><ellipse cx="720" cy="390" rx="110" ry="100"/><ellipse cx="394" cy="250" rx="300" ry="45"/><ellipse cx="394" cy="540" rx="450" ry="20"/></g>
<g fill="#6cbc84"><ellipse cx="120" cy="95" rx="60" ry="70"/><ellipse cx="410" cy="40" rx="55" ry="50"/><ellipse cx="300" cy="150" rx="250" ry="60"/><ellipse cx="150" cy="300" rx="200" ry="50"/><ellipse cx="80" cy="460" rx="90" ry="90"/><ellipse cx="720" cy="390" rx="100" ry="90"/><ellipse cx="394" cy="565" rx="450" ry="20"/></g>
<g fill="#f0a858"><ellipse cx="120" cy="90" rx="55" ry="60"/><ellipse cx="415" cy="30" rx="50" ry="50"/><ellipse cx="120" cy="298" rx="130" ry="33"/><ellipse cx="30" cy="460" rx="35" ry="50"/><ellipse cx="760" cy="380" rx="50" ry="55"/><ellipse cx="394" cy="592" rx="450" ry="22"/></g>
</g>
<ellipse cx="120" cy="100" rx="55" ry="70" fill="url(#pDR)"/>
<g fill="url(#pD)"><ellipse cx="415" cy="40" rx="50" ry="45"/><ellipse cx="90" cy="460" rx="90" ry="90"/></g>
<g fill="url(#pR)"><ellipse cx="320" cy="160" rx="240" ry="60"/><ellipse cx="150" cy="300" rx="190" ry="45"/><rect x="0" y="560" width="787" height="47"/></g>
<ellipse cx="720" cy="390" rx="90" ry="90" fill="url(#pL)"/>
<g fill="none" stroke="#1c1c1c" stroke-width="4"><ellipse cx="122" cy="87" rx="58" ry="54"/><path d="M363,0 Q370,80 415,80 Q470,75 470,0"/><path d="M0,263 Q200,260 242,285 Q200,320 0,330"/><path d="M0,420 Q60,440 60,465 Q55,495 0,500"/><path d="M787,330 Q703,340 703,380 Q715,425 787,433"/><path d="M0,555 Q300,585 787,575"/></g>
<use href="#coi3" fill="none" stroke="#1c1c1c" stroke-width="3.5"/>
</g>
<rect width="787" height="607" fill="none" stroke="#1c1c1c" stroke-width="4"/>
</g>

<!-- ============ b5 ============ -->
<g transform="translate(1110,3652)">
<g clip-path="url(#pc)">
<rect width="787" height="607" fill="#4a64a8"/>
<g filter="url(#bl)">
<g fill="#46509c"><ellipse cx="394" cy="430" rx="420" ry="70"/><ellipse cx="650" cy="220" rx="100" ry="100"/><ellipse cx="394" cy="603" rx="450" ry="10"/></g>
<g fill="#2aaed2"><ellipse cx="400" cy="100" rx="140" ry="140"/><ellipse cx="142" cy="140" rx="70" ry="110"/><ellipse cx="80" cy="290" rx="120" ry="100"/><ellipse cx="510" cy="260" rx="100" ry="80"/><ellipse cx="520" cy="560" rx="320" ry="70"/><ellipse cx="300" cy="250" rx="50" ry="50"/></g>
<g fill="#6cbc84"><ellipse cx="400" cy="100" rx="110" ry="120"/><ellipse cx="142" cy="140" rx="55" ry="100"/><ellipse cx="80" cy="290" rx="100" ry="80"/><ellipse cx="520" cy="560" rx="290" ry="55"/></g>
<g fill="#f0a858"><ellipse cx="400" cy="60" rx="80" ry="55"/><ellipse cx="360" cy="120" rx="35" ry="40"/><ellipse cx="142" cy="120" rx="28" ry="32"/></g>
<ellipse cx="585" cy="540" rx="70" ry="10" fill="#a8c456"/>
</g>
<g fill="url(#pD)"><ellipse cx="400" cy="100" rx="100" ry="120"/><ellipse cx="142" cy="140" rx="50" ry="100"/><ellipse cx="610" cy="220" rx="20" ry="60"/></g>
<g fill="url(#pL)"><ellipse cx="80" cy="290" rx="95" ry="80"/><ellipse cx="520" cy="560" rx="280" ry="55"/></g>
<g fill="none" stroke="#1c1c1c" stroke-width="4"><path d="M319,0 Q315,80 330,120 Q340,150 355,150 Q375,140 413,119 Q470,100 485,60 L500,0"/><ellipse cx="142" cy="120" rx="38" ry="33"/><ellipse cx="585" cy="539" rx="80" ry="12"/></g>
<use href="#coi1" fill="none" stroke="#1c1c1c" stroke-width="3.5"/>
</g>
<rect width="787" height="607" fill="none" stroke="#1c1c1c" stroke-width="4"/>
</g>

<!-- ============ c5 ============ -->
<g transform="translate(2055,3652)">
<g clip-path="url(#pc)">
<rect width="787" height="607" fill="#4a64a8"/>
<g filter="url(#bl)">
<g fill="#46509c"><ellipse cx="420" cy="330" rx="250" ry="110"/><ellipse cx="394" cy="480" rx="300" ry="30"/><ellipse cx="700" cy="350" rx="60" ry="80"/></g>
<g fill="#2aaed2"><ellipse cx="430" cy="90" rx="260" ry="130"/><ellipse cx="90" cy="170" rx="120" ry="130"/><ellipse cx="630" cy="180" rx="60" ry="110"/><ellipse cx="30" cy="420" rx="60" ry="170"/><ellipse cx="350" cy="560" rx="380" ry="90"/></g>
<g fill="#6cbc84"><ellipse cx="430" cy="80" rx="230" ry="110"/><ellipse cx="90" cy="170" rx="100" ry="110"/><ellipse cx="630" cy="180" rx="45" ry="90"/><ellipse cx="30" cy="420" rx="50" ry="150"/><ellipse cx="350" cy="560" rx="350" ry="75"/></g>
<g fill="#f0a858"><ellipse cx="330" cy="80" rx="60" ry="90"/><ellipse cx="470" cy="40" rx="180" ry="45"/><ellipse cx="136" cy="101" rx="28" ry="45"/><ellipse cx="600" cy="585" rx="250" ry="45"/><ellipse cx="10" cy="460" rx="20" ry="30"/></g>
<ellipse cx="450" cy="25" rx="110" ry="25" fill="#e6d84e"/>
</g>
<g fill="url(#pD)"><ellipse cx="430" cy="90" rx="240" ry="110"/><ellipse cx="90" cy="180" rx="90" ry="110"/><ellipse cx="630" cy="180" rx="40" ry="90"/><ellipse cx="30" cy="430" rx="40" ry="150"/><ellipse cx="400" cy="565" rx="390" ry="70"/></g>
<g fill="none" stroke="#1c1c1c" stroke-width="4"><path d="M311,0 Q262,60 268,128 Q280,175 320,171 Q365,165 371,120 Q380,85 420,80 Q500,70 534,46 Q570,120 619,99 Q640,60 637,0"/><ellipse cx="136" cy="101" rx="38" ry="51"/><path d="M346,607 Q370,535 466,532 Q600,530 787,546"/><path d="M0,425 Q35,450 30,470 Q25,485 0,490"/></g>
<use href="#coi1" fill="none" stroke="#1c1c1c" stroke-width="3.5"/>
</g>
<rect width="787" height="607" fill="none" stroke="#1c1c1c" stroke-width="4"/>
</g>

<!-- ============ ticks & tick labels ============ -->
<g stroke="#1c1c1c" stroke-width="3.5" fill="none">
<path d="M232,844v-18M353,844v-18M474,844v-18M595,844v-18M716,844v-18M837,844v-18 M1177,844v-18M1298,844v-18M1419,844v-18M1540,844v-18M1661,844v-18M1782,844v-18 M2122,844v-18M2243,844v-18M2364,844v-18M2485,844v-18M2606,844v-18M2727,844v-18"/>
<path d="M232,1692v-18M353,1692v-18M474,1692v-18M595,1692v-18M716,1692v-18M837,1692v-18 M1177,1692v-18M1298,1692v-18M1419,1692v-18M1540,1692v-18M1661,1692v-18M1782,1692v-18 M2122,1692v-18M2243,1692v-18M2364,1692v-18M2485,1692v-18M2606,1692v-18M2727,1692v-18"/>
<path d="M232,4259v-18M353,4259v-18M474,4259v-18M595,4259v-18M716,4259v-18M837,4259v-18 M1177,4259v-18M1298,4259v-18M1419,4259v-18M1540,4259v-18M1661,4259v-18M1782,4259v-18 M2122,4259v-18M2243,4259v-18M2364,4259v-18M2485,4259v-18M2606,4259v-18M2727,4259v-18"/>
<path d="M176,2547v-20M351,2547v-20M526,2547v-20M701,2547v-20M876,2547v-20 M1121,2547v-20M1296,2547v-20M1471,2547v-20M1646,2547v-20M1821,2547v-20 M2066,2547v-20M2241,2547v-20M2416,2547v-20M2591,2547v-20M2766,2547v-20"/>
<path d="M176,3401v-20M351,3401v-20M526,3401v-20M701,3401v-20M876,3401v-20 M1121,3401v-20M1296,3401v-20M1471,3401v-20M1646,3401v-20M1821,3401v-20 M2066,3401v-20M2241,3401v-20M2416,3401v-20M2591,3401v-20M2766,3401v-20"/>
<path d="M165,401h20M165,575h20M165,748h20 M1110,401h20M1110,575h20M1110,748h20 M2055,401h20M2055,575h20M2055,748h20"/>
<path d="M165,1250h20M165,1423h20M165,1596h20 M1110,1250h20M1110,1423h20M1110,1596h20 M2055,1250h20M2055,1423h20M2055,1596h20"/>
<path d="M165,2140h20M165,2344h20 M1110,2140h20M1110,2344h20 M2055,2140h20M2055,2344h20"/>
<path d="M165,2994h20M165,3199h20 M1110,2994h20M1110,3199h20 M2055,2994h20M2055,3199h20"/>
<path d="M165,3816h20M165,3990h20M165,4163h20 M1110,3816h20M1110,3990h20M1110,4163h20 M2055,3816h20M2055,3990h20M2055,4163h20"/>
</g>

<g font-size="66" text-anchor="end">
<text x="146" y="417">4</text><text x="146" y="591">8</text><text x="146" y="764">16</text>
<text x="1091" y="417">4</text><text x="1091" y="591">8</text><text x="1091" y="764">16</text>
<text x="2036" y="417">4</text><text x="2036" y="591">8</text><text x="2036" y="764">16</text>
<text x="146" y="1266">4</text><text x="146" y="1439">8</text><text x="146" y="1612">16</text>
<text x="1091" y="1266">4</text><text x="1091" y="1439">8</text><text x="1091" y="1612">16</text>
<text x="2036" y="1266">4</text><text x="2036" y="1439">8</text><text x="2036" y="1612">16</text>
<text x="146" y="2156">4</text><text x="146" y="2360">8</text>
<text x="1091" y="2156">4</text><text x="1091" y="2360">8</text>
<text x="2036" y="2156">4</text><text x="2036" y="2360">8</text>
<text x="146" y="3010">4</text><text x="146" y="3215">8</text>
<text x="1091" y="3010">4</text><text x="1091" y="3215">8</text>
<text x="2036" y="3010">4</text><text x="2036" y="3215">8</text>
<text x="146" y="3832">4</text><text x="146" y="4006">8</text><text x="146" y="4179">16</text>
<text x="1091" y="3832">4</text><text x="1091" y="4006">8</text><text x="1091" y="4179">16</text>
<text x="2036" y="3832">4</text><text x="2036" y="4006">8</text><text x="2036" y="4179">16</text>
</g>

<g font-size="62" text-anchor="end">
<text transform="translate(254,892) rotate(-45)">1960</text><text transform="translate(375,892) rotate(-45)">1970</text><text transform="translate(496,892) rotate(-45)">1980</text><text transform="translate(617,892) rotate(-45)">1990</text><text transform="translate(738,892) rotate(-45)">2000</text><text transform="translate(859,892) rotate(-45)">2010</text>
<text transform="translate(1199,892) rotate(-45)">1960</text><text transform="translate(1320,892) rotate(-45)">1970</text><text transform="translate(1441,892) rotate(-45)">1980</text><text transform="translate(1562,892) rotate(-45)">1990</text><text transform="translate(1683,892) rotate(-45)">2000</text><text transform="translate(1804,892) rotate(-45)">2010</text>
<text transform="translate(2144,892) rotate(-45)">1960</text><text transform="translate(2265,892) rotate(-45)">1970</text><text transform="translate(2386,892) rotate(-45)">1980</text><text transform="translate(2507,892) rotate(-45)">1990</text><text transform="translate(2628,892) rotate(-45)">2000</text><text transform="translate(2749,892) rotate(-45)">2010</text>
<text transform="translate(254,1740) rotate(-45)">1960</text><text transform="translate(375,1740) rotate(-45)">1970</text><text transform="translate(496,1740) rotate(-45)">1980</text><text transform="translate(617,1740) rotate(-45)">1990</text><text transform="translate(738,1740) rotate(-45)">2000</text><text transform="translate(859,1740) rotate(-45)">2010</text>
<text transform="translate(1199,1740) rotate(-45)">1960</text><text transform="translate(1320,1740) rotate(-45)">1970</text><text transform="translate(1441,1740) rotate(-45)">1980</text><text transform="translate(1562,1740) rotate(-45)">1990</text><text transform="translate(1683,1740) rotate(-45)">2000</text><text transform="translate(1804,1740) rotate(-45)">2010</text>
<text transform="translate(2144,1740) rotate(-45)">1960</text><text transform="translate(2265,1740) rotate(-45)">1970</text><text transform="translate(2386,1740) rotate(-45)">1980</text><text transform="translate(2507,1740) rotate(-45)">1990</text><text transform="translate(2628,1740) rotate(-45)">2000</text><text transform="translate(2749,1740) rotate(-45)">2010</text>
<text transform="translate(198,2595) rotate(-45)">1975</text><text transform="translate(373,2595) rotate(-45)">1985</text><text transform="translate(548,2595) rotate(-45)">1995</text><text transform="translate(723,2595) rotate(-45)">2005</text><text transform="translate(898,2595) rotate(-45)">2015</text>
<text transform="translate(1143,2595) rotate(-45)">1975</text><text transform="translate(1318,2595) rotate(-45)">1985</text><text transform="translate(1493,2595) rotate(-45)">1995</text><text transform="translate(1668,2595) rotate(-45)">2005</text><text transform="translate(1843,2595) rotate(-45)">2015</text>
<text transform="translate(2088,2595) rotate(-45)">1975</text><text transform="translate(2263,2595) rotate(-45)">1985</text><text transform="translate(2438,2595) rotate(-45)">1995</text><text transform="translate(2613,2595) rotate(-45)">2005</text><text transform="translate(2788,2595) rotate(-45)">2015</text>
<text transform="translate(198,3449) rotate(-45)">1975</text><text transform="translate(373,3449) rotate(-45)">1985</text><text transform="translate(548,3449) rotate(-45)">1995</text><text transform="translate(723,3449) rotate(-45)">2005</text><text transform="translate(898,3449) rotate(-45)">2015</text>
<text transform="translate(1143,3449) rotate(-45)">1975</text><text transform="translate(1318,3449) rotate(-45)">1985</text><text transform="translate(1493,3449) rotate(-45)">1995</text><text transform="translate(1668,3449) rotate(-45)">2005</text><text transform="translate(1843,3449) rotate(-45)">2015</text>
<text transform="translate(2088,3449) rotate(-45)">1975</text><text transform="translate(2263,3449) rotate(-45)">1985</text><text transform="translate(2438,3449) rotate(-45)">1995</text><text transform="translate(2613,3449) rotate(-45)">2005</text><text transform="translate(2788,3449) rotate(-45)">2015</text>
<text transform="translate(254,4307) rotate(-45)">1960</text><text transform="translate(375,4307) rotate(-45)">1970</text><text transform="translate(496,4307) rotate(-45)">1980</text><text transform="translate(617,4307) rotate(-45)">1990</text><text transform="translate(738,4307) rotate(-45)">2000</text><text transform="translate(859,4307) rotate(-45)">2010</text>
<text transform="translate(1199,4307) rotate(-45)">1960</text><text transform="translate(1320,4307) rotate(-45)">1970</text><text transform="translate(1441,4307) rotate(-45)">1980</text><text transform="translate(1562,4307) rotate(-45)">1990</text><text transform="translate(1683,4307) rotate(-45)">2000</text><text transform="translate(1804,4307) rotate(-45)">2010</text>
<text transform="translate(2144,4307) rotate(-45)">1960</text><text transform="translate(2265,4307) rotate(-45)">1970</text><text transform="translate(2386,4307) rotate(-45)">1980</text><text transform="translate(2507,4307) rotate(-45)">1990</text><text transform="translate(2628,4307) rotate(-45)">2000</text><text transform="translate(2749,4307) rotate(-45)">2010</text>
</g>

<g font-size="64" text-anchor="middle">
<text transform="translate(57,570) rotate(-90)">周期(a)</text>
<text transform="translate(57,1415) rotate(-90)">周期(a)</text>
<text transform="translate(76,2229) rotate(-90)">周期(a)</text>
<text transform="translate(76,3084) rotate(-90)">周期(a)</text>
<text transform="translate(57,3980) rotate(-90)">周期(a)</text>
</g>

<g font-size="66" text-anchor="middle">
<text x="523" y="4477">年份</text><text x="1468" y="4477">年份</text><text x="2413" y="4477">年份</text>
</g>

<text x="442" y="4576" font-size="66" textLength="265" lengthAdjust="spacing">相关系数</text>
<rect x="741.5" y="4525.5" width="1686" height="61" fill="url(#cb)" stroke="#1c1c1c" stroke-width="5"/>
<path d="M908,4584v-13M1077,4584v-13M1246,4584v-13M1415,4584v-13M1584,4584v-13M1754,4584v-13M1923,4584v-13M2092,4584v-13M2261,4584v-13" stroke="#1c1c1c" stroke-width="2.5"/>
<g font-size="64" text-anchor="middle">
<text x="740" y="4644">0</text><text x="908" y="4644">0.1</text><text x="1077" y="4644">0.2</text><text x="1246" y="4644">0.3</text><text x="1415" y="4644">0.4</text><text x="1584" y="4644">0.5</text><text x="1754" y="4644">0.6</text><text x="1923" y="4644">0.7</text><text x="2092" y="4644">0.8</text><text x="2261" y="4644">0.9</text><text x="2430" y="4644">1.0</text>
</g>
</svg>
</body></html>
